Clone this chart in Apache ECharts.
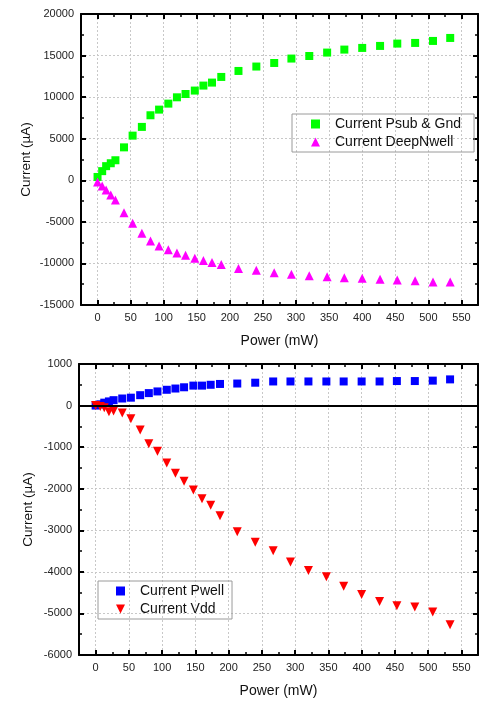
<!DOCTYPE html>
<html>
<head>
<meta charset="utf-8">
<title>Current vs Power</title>
<script src="https://cdn.jsdelivr.net/npm/echarts@6/dist/echarts.min.js"></script>
<style>
  html, body { margin: 0; padding: 0; background: #fff; }
  #chart { width: 481px; height: 701px; }
</style>
</head>
<body>
<div id="chart"></div>
<script>
// power sweep (mW), same points for both panels
const powerMW = [0, 7, 13, 20, 27, 40, 53, 67, 80, 93, 107, 120, 133, 147, 160, 173, 187,
  213, 240, 267, 293, 320, 347, 373, 400, 427, 453, 480, 507, 533];

// top panel (uA)
const psubGnd = [400, 1100, 1700, 2050, 2410, 3960, 5370, 6420, 7820, 8500, 9220, 9980, 10380,
  10790, 11390, 11750, 12430, 13150, 13680, 14110, 14640, 14950, 15360, 15720, 15920, 16160,
  16440, 16520, 16760, 17120];
const deepNwell = [-200, -680, -1170, -1760, -2370, -3890, -5170, -6380, -7300, -7900, -8340,
  -8740, -9020, -9380, -9660, -9900, -10140, -10620, -10830, -11110, -11310, -11470, -11590,
  -11710, -11790, -11910, -11990, -12070, -12230, -12230];

// bottom panel (uA)
const pwell = [0, 30, 70, 100, 130, 170, 190, 250, 300, 340, 380, 410, 440, 480, 480, 500, 520,
  530, 550, 580, 580, 580, 580, 580, 580, 580, 590, 590, 600, 630];
const vdd = [0, -20, -50, -150, -130, -180, -320, -590, -920, -1100, -1380, -1630, -1820, -2030,
  -2240, -2400, -2650, -3035, -3285, -3495, -3765, -3965, -4115, -4345, -4545, -4715, -4815,
  -4845, -4965, -5275];

// tick labels
const xTicks = [0, 50, 100, 150, 200, 250, 300, 350, 400, 450, 500, 550];
const topYTicks = [-15000, -10000, -5000, 0, 5000, 10000, 15000, 20000];
const bottomYTicks = [-6000, -5000, -4000, -3000, -2000, -1000, 0, 1000];

const FONT = '"Liberation Sans", Arial, sans-serif';
// upside-down triangle for the Vdd legend entry
const DOWN_TRIANGLE = 'path://M0,0 L10,0 L5,10 Z';

function pairs(ys) {
  return powerMW.map((x, i) => [x, ys[i]]);
}

// one side of the boxed frame: ticks point inward, only bottom/left carry text
function xSide(gridIndex, position) {
  const main = position === 'bottom';
  return {
    type: 'value', gridIndex, position,
    // half a step of padding each side, ticks still land on multiples of 50
    min: xTicks[0] - 25, max: xTicks[xTicks.length - 1] + 25, splitNumber: 12,
    name: main ? 'Power (mW)' : '',
    nameLocation: 'middle', nameGap: 29,
    nameTextStyle: { fontFamily: FONT, fontSize: 14, color: '#111' },
    axisLine: { onZero: false, lineStyle: { color: '#000', width: 2 } },
    axisTick: { inside: true, length: 5, lineStyle: { color: '#000', width: 2 } },
    minorTick: { show: true, splitNumber: 2, length: 3, lineStyle: { color: '#000', width: 1.5 } },
    axisLabel: {
      show: main, margin: 7, showMinLabel: false, showMaxLabel: false,
      fontFamily: FONT, fontSize: 11, color: '#222',
      formatter: v => String(v)
    },
    splitLine: { show: main, lineStyle: { color: '#c8c8c8', type: [2, 2], width: 1 } }
  };
}

function ySide(gridIndex, position, ticks, nameGap) {
  const main = position === 'left';
  return {
    type: 'value', gridIndex, position,
    min: ticks[0], max: ticks[ticks.length - 1], interval: ticks[1] - ticks[0],
    name: main ? 'Current (\u00b5A)' : '',
    nameLocation: 'middle', nameGap, nameMoveOverlap: false,
    nameTextStyle: { fontFamily: FONT, fontSize: 13.5, color: '#111' },
    axisLine: { onZero: false, lineStyle: { color: '#000', width: 2 } },
    axisTick: { inside: true, length: 5, lineStyle: { color: '#000', width: 2 } },
    minorTick: { show: true, splitNumber: 2, length: 3, lineStyle: { color: '#000', width: 1.5 } },
    axisLabel: {
      show: main, margin: 7,
      fontFamily: FONT, fontSize: 11, color: '#222',
      formatter: v => String(v)
    },
    splitLine: { show: main, lineStyle: { color: '#c8c8c8', type: [2, 2], width: 1 } }
  };
}

function legendBox(items, left, top, padRight, padLeft) {
  return {
    data: items,
    orient: 'vertical', left, top,
    padding: [3, padRight, 3, padLeft],
    itemWidth: 9, itemHeight: 9, itemGap: 4,
    borderColor: '#9a9a9a', borderWidth: 1,
    textStyle: { fontFamily: FONT, fontSize: 14, color: '#111', padding: [0, 0, 0, 10] }
  };
}

const chart = echarts.init(document.getElementById('chart'), null, { renderer: 'canvas' });

chart.setOption({
  animation: false,
  backgroundColor: '#fff',
  grid: [
    { left: 81, right: 3, top: 14, height: 291 },
    { left: 79, right: 3, top: 364, height: 291 }
  ],
  xAxis: [xSide(0, 'bottom'), xSide(0, 'top'), xSide(1, 'bottom'), xSide(1, 'top')],
  yAxis: [
    ySide(0, 'left', topYTicks, 48), ySide(0, 'right', topYTicks, 0),
    ySide(1, 'left', bottomYTicks, 44), ySide(1, 'right', bottomYTicks, 0)
  ],
  legend: [
    legendBox(['Current Psub & Gnd', 'Current DeepNwell'], 292, 114, 13, 19),
    legendBox(['Current Pwell', { name: 'Current Vdd', icon: DOWN_TRIANGLE }], 98, 581, 8, 18)
  ],
  series: [
    {
      name: 'Current Psub & Gnd', type: 'scatter', xAxisIndex: 0, yAxisIndex: 0,
      symbol: 'rect', symbolSize: 8, itemStyle: { color: '#00ff00', opacity: 1 },
      data: pairs(psubGnd)
    },
    {
      name: 'Current DeepNwell', type: 'scatter', xAxisIndex: 0, yAxisIndex: 0,
      symbol: 'triangle', symbolSize: 9, itemStyle: { color: '#ff00ff', opacity: 1 },
      data: pairs(deepNwell)
    },
    {
      name: 'Current Pwell', type: 'scatter', xAxisIndex: 2, yAxisIndex: 2,
      symbol: 'rect', symbolSize: 8, itemStyle: { color: '#0000ff', opacity: 1 },
      data: pairs(pwell),
      // solid zero line across the lower panel
      markLine: {
        silent: true, symbol: 'none', label: { show: false },
        lineStyle: { color: '#000', width: 2, type: 'solid' },
        data: [{ yAxis: 0 }]
      }
    },
    {
      name: 'Current Vdd', type: 'scatter', xAxisIndex: 2, yAxisIndex: 2,
      symbol: 'triangle', symbolRotate: 180, symbolSize: 9,
      itemStyle: { color: '#ff0000', opacity: 1 },
      data: pairs(vdd)
    }
  ]
});
</script>
</body>
</html>
